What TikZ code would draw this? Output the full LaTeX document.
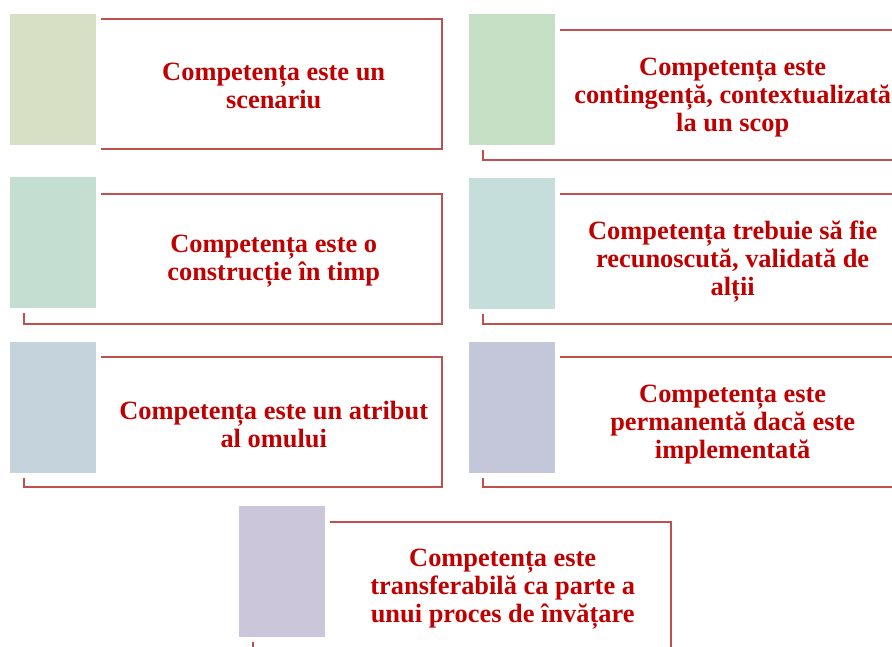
\documentclass[tikz,border=0pt]{standalone}
\usepackage{fontspec}
\setmainfont{Liberation Serif}
\usetikzlibrary{positioning}

\definecolor{framered}{RGB}{192,80,77}
\definecolor{textred}{RGB}{192,0,0}
\definecolor{tileA}{RGB}{215,224,196}
\definecolor{tileB}{RGB}{198,224,198}
\definecolor{tileC}{RGB}{197,222,210}
\definecolor{tileD}{RGB}{197,221,219}
\definecolor{tileE}{RGB}{197,211,220}
\definecolor{tileF}{RGB}{196,198,218}
\definecolor{tileG}{RGB}{204,198,218}

\begin{document}
\begin{tikzpicture}[x=1pt, y=-1pt]
    \tikzset{
        frame/.style = {rectangle, draw=framered, line width=2pt, minimum width=418pt, minimum height=130pt, inner sep=0pt, outer sep=0pt},
        tile/.style = {rectangle, draw=white, line width=5pt, minimum width=91pt, minimum height=136pt, inner sep=0pt, outer sep=2.5pt},
        textbox/.style = {anchor=west, xshift=2pt, yshift=-2.5pt, minimum width=341pt, align=center, inner sep=0pt, text=textred, font=\bfseries\fontsize{26.4}{28}\selectfont},
    }
    \useasboundingbox (0,0) rectangle (892,646);
    \clip (0,0) rectangle (892,646);

    \node[frame](scenframe) at (233,83.5){};
    \node[tile, fill=tileA](scentile) at (53,79.5){};
    \node[textbox](scen) at (scenframe.center -| scentile.east){Competența este un\\scenariu};

    \node[frame](contframe) at (692,95){};
    \node[tile, fill=tileB](conttile) at (512,79.5){};
    \node[textbox](cont) at (contframe.center -| conttile.east){Competența este\\contingență, contextualizată\\la un scop};

    \node[frame](constrframe) at (233,258.5){};
    \node[tile, fill=tileC](constrtile) at (53,242.5){};
    \node[textbox](constr) at (constrframe.center -| constrtile.east){Competența este o\\construcție în timp};

    \node[frame](validframe) at (692,259){};
    \node[tile, fill=tileD](validtile) at (512,243){};
    \node[textbox](valid) at (validframe.center -| validtile.east){Competența trebuie să fie\\recunoscută, validată de\\alții};

    \node[frame](attrframe) at (233,422){};
    \node[tile, fill=tileE](attrtile) at (53,407.5){};
    \node[textbox](attr) at (attrframe.center -| attrtile.east){Competența este un atribut\\al omului};

    \node[frame](permframe) at (692,422){};
    \node[tile, fill=tileF](permtile) at (512,407.5){};
    \node[textbox](perm) at (permframe.center -| permtile.east){Competența este\\permanentă dacă este\\implementată};

    \node[frame](transframe) at (462,587){};
    \node[tile, fill=tileG](transtile) at (282,571){};
    \node[textbox](trans) at (transframe.center -| transtile.east){Competența este\\transferabilă ca parte a\\unui proces de învățare};

\end{tikzpicture}
\end{document}
